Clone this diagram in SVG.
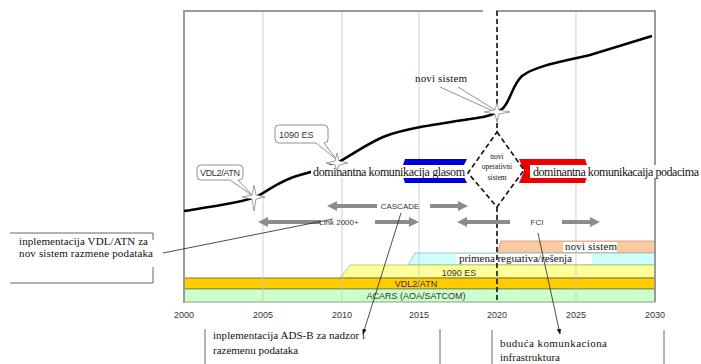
<svg xmlns="http://www.w3.org/2000/svg" width="701" height="364" viewBox="0 0 701 364">
<defs>
<style>
.serif{font-family:"Liberation Serif","Times New Roman",serif;fill:#111}
.sans{font-family:"Liberation Sans",Arial,sans-serif;fill:#333}
.grid{stroke:#c4c4c4;stroke-width:1;fill:none}
.frame{stroke:#9a9a9a;stroke-width:2;fill:none}
.garrow{fill:#8c8c8c}
.call{fill:#fff;stroke:#777;stroke-width:0.8}
.star{fill:#fff;stroke:#888;stroke-width:0.8}
.thin{stroke:#222;stroke-width:0.8;fill:none}
.box{stroke:#666;stroke-width:1;fill:none}
</style>
<marker id="ah" viewBox="0 0 10 10" refX="9" refY="5" markerWidth="7" markerHeight="7" orient="auto">
<path d="M0,1 L10,5 L0,9 Z" fill="#111"/>
</marker>
</defs>
<rect width="701" height="364" fill="#fff"/>

<g id="bands">
<polygon points="497,253 501,241 655,241 655,253" fill="#fbc9a0" stroke="#c99a74" stroke-width="0.8"/>
<polygon points="408,265 415,253 655,253 655,265" fill="#ccffff" stroke="#8fbaba" stroke-width="0.8"/>
<polygon points="340,278 350,265 655,265 655,278" fill="#ffff99" stroke="#b8b86a" stroke-width="0.8"/>
<rect x="184" y="278" width="471" height="11" fill="#ffcc00" stroke="#6b5a10" stroke-width="0.8"/>
<rect x="184" y="289" width="471" height="13" fill="#ccffcc" stroke="#6a8a6a" stroke-width="0.8"/>
<rect x="456" y="254" width="136" height="10" fill="#fff"/>
<rect x="563" y="242" width="54" height="10" fill="#fff"/>
<text class="serif" x="459" y="262" font-size="11" textLength="113">primena reguativa/rešenja</text>
<text class="serif" x="565" y="250" font-size="11" textLength="52">novi sistem</text>
<text class="sans" x="459" y="276" font-size="9" text-anchor="middle">1090 ES</text>
<text class="sans" x="416" y="287" font-size="9" text-anchor="middle">VDL2/ATN</text>
<text class="sans" x="416" y="299" font-size="9" text-anchor="middle">ACARS (AOA/SATCOM)</text>
</g>

<g id="grid">
<line class="grid" x1="263" y1="12" x2="263" y2="302" opacity="0.8"/>
<line class="grid" x1="342" y1="12" x2="342" y2="302" opacity="0.8"/>
<line class="grid" x1="419" y1="12" x2="419" y2="302" opacity="0.8"/>
<line class="grid" x1="576" y1="12" x2="576" y2="302" opacity="0.8"/>
<path class="frame" d="M184,303 V11 H483 M496,11 H655 V302"/>
<g class="sans" font-size="9" text-anchor="middle">
<text x="184" y="318">2000</text>
<text x="263" y="318">2005</text>
<text x="342" y="318">2010</text>
<text x="419" y="318">2015</text>
<text x="497" y="318">2020</text>
<text x="576" y="318">2025</text>
<text x="655" y="318">2030</text>
</g>
</g>

<g id="curve">
<path d="M184,211 C210,207 240,203 256,197 C270,190 280,180 300,175 C315,171 325,168 337,163 C350,156 365,145 383,137 C405,128 450,122 483,117 C492,115 497,113 502,109 C510,103 512,85 522,76 C535,66 560,62 590,55 L652,36" fill="none" stroke="#000" stroke-width="2.5"/>
</g>

<g id="divider">
<line x1="497" y1="11" x2="497" y2="132" stroke="#111" stroke-width="1.6" stroke-dasharray="5,3"/>
<line x1="497" y1="207" x2="497" y2="302" stroke="#111" stroke-width="1.6" stroke-dasharray="5,3"/>
</g>

<g id="glasom">
<polygon points="405,159 467,159 461,171 467,183 405,183 401,171" fill="#0000dd"/>
<rect x="311" y="165" width="156" height="13" fill="#fff"/>
<text class="serif" x="313" y="176" font-size="12" textLength="152">dominantna komunikacija glasom</text>
</g>

<g id="podacima">
<polygon points="519,159 585,159 589,171 585,183 519,183 524,171" fill="#ee0000"/>
<rect x="530" y="165" width="171" height="13" fill="#fff"/>
<text class="serif" x="533" y="176" font-size="12" textLength="166">dominantna komunikacaija podacima</text>
</g>

<g id="novi-operativni">
<polygon points="497,132 524,170 497,207 468,173" fill="#fff" stroke="#111" stroke-width="1.6" stroke-dasharray="5,3"/>
<g class="serif" font-size="7.5" text-anchor="middle">
<text x="497" y="159">novi</text>
<text x="497" y="169">operativni</text>
<text x="497" y="180">sistem</text>
</g>
</g>

<g id="vdl2atn-callout">
<path class="call" d="M201,165 H239 Q243,165 243,169 V176 Q243,180 239,180 H238 L253,196 L230,180 H201 Q197,180 197,176 V169 Q197,165 201,165 Z"/>
<text class="sans" x="220" y="176" font-size="9" text-anchor="middle" textLength="40">VDL2/ATN</text>
<polygon class="star" points="254,185 256,195 265,197 256,199 254,211 252,199 242,197 252,195"/>
</g>

<g id="es1090-callout">
<path class="call" d="M279,125 H324 Q328,125 328,129 V139 Q328,143 324,143 H324 L336,159 L316,143 H279 Q275,143 275,139 V129 Q275,125 279,125 Z"/>
<text class="sans" x="279" y="138" font-size="9">1090 ES</text>
<polygon class="star" points="337,153 339,161 348,163 339,165 337,171 335,165 326,163 335,161"/>
</g>

<g id="novi-sistem">
<text class="serif" x="415" y="82" font-size="11" textLength="52">novi sistem</text>
<line x1="440" y1="87" x2="495" y2="112" stroke="#777" stroke-width="0.8"/>
<line x1="458" y1="87" x2="495" y2="110" stroke="#777" stroke-width="0.8"/>
<polygon class="star" points="497,103 499,110 510,112 499,114 497,122 495,114 484,112 495,110"/>
</g>

<g id="cascade">
<path class="garrow" d="M327,206 L337,201 V204 H377 V208 H337 V211 Z"/>
<text class="sans" x="400" y="209" font-size="8" text-anchor="middle">CASCADE</text>
<path class="garrow" d="M430,204 H458 V201 L468,206 L458,211 V208 H430 Z"/>
</g>

<g id="link2000">
<path class="garrow" d="M258,222 L268,217 V220 H320 V224 H268 V227 Z"/>
<text class="sans" x="339" y="225" font-size="8" text-anchor="middle">Link 2000+</text>
<path class="garrow" d="M375,220 H409 V217 L419,222 L409,227 V224 H375 Z"/>
</g>

<g id="fci">
<path class="garrow" d="M457,222 L467,217 V220 H510 V224 H467 V227 Z"/>
<text class="sans" x="537" y="225" font-size="8" text-anchor="middle">FCI</text>
<path class="garrow" d="M562,220 H590 V217 L600,222 L590,227 V224 H562 Z"/>
</g>

<g id="vdl-box">
<path class="box" d="M10,233 H153 V240 M153,267 V283 H10"/>
<text class="serif" x="19" y="245" font-size="11" textLength="129">inplementacija VDL/ATN za</text>
<text class="serif" x="19" y="257" font-size="11" textLength="134">nov sistem razmene podataka</text>
</g>

<g id="adsb-box">
<path class="box" d="M205,329 V364 M440,329 V364"/>
<text class="serif" x="213" y="339" font-size="11" textLength="152">inplementacija ADS-B za nadzor i</text>
<text class="serif" x="213" y="354" font-size="11">razemenu podataka</text>
</g>

<g id="fci-box">
<path class="box" d="M492,330 V364 M664,330 V364"/>
<text class="serif" x="500" y="347" font-size="11" textLength="107">buduća komunkaciona</text>
<text class="serif" x="500" y="361" font-size="11" textLength="60">infrastruktura</text>
</g>

<g id="connectors">
<line class="thin" x1="163" y1="253" x2="333" y2="219"/>
<line class="thin" x1="401" y1="213" x2="363" y2="334" marker-end="url(#ah)"/>
<line class="thin" x1="538" y1="233" x2="560" y2="334" marker-end="url(#ah)"/>
</g>
</svg>
